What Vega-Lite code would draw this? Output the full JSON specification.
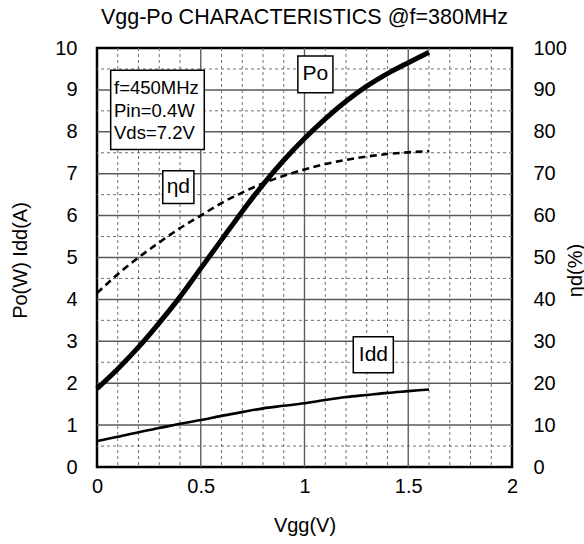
{
  "$schema": "https://vega.github.io/schema/vega-lite/v6.json",
  "width": 415,
  "height": 419,
  "autosize": "none",
  "padding": {"left": 97, "top": 48, "right": 72, "bottom": 77},
  "title": {
    "text": "Vgg-Po CHARACTERISTICS @f=380MHz",
    "fontSize": 21.5,
    "font": "Liberation Sans",
    "fontWeight": "normal",
    "color": "black",
    "anchor": "middle",
    "offset": 10
  },
  "config": {
    "view": {"stroke": "black", "strokeWidth": 2.5},
    "font": "Liberation Sans",
    "axis": {
      "labelFont": "Liberation Sans",
      "titleFont": "Liberation Sans",
      "labelFontSize": 20,
      "titleFontSize": 20,
      "titleFontWeight": "normal",
      "labelColor": "black",
      "titleColor": "black",
      "domain": false,
      "ticks": false,
      "grid": false,
      "labelFlush": false,
      "labelOverlap": false,
      "labelBound": false
    }
  },
  "datasets": {
    "curves": [
      {"vgg": 0.0, "po": 1.87, "idd": 0.62, "eta": 41.5},
      {"vgg": 0.1, "po": 2.34, "idd": 0.72, "eta": 46.0},
      {"vgg": 0.2, "po": 2.86, "idd": 0.83, "eta": 50.0},
      {"vgg": 0.3, "po": 3.44, "idd": 0.93, "eta": 53.6},
      {"vgg": 0.4, "po": 4.06, "idd": 1.03, "eta": 57.0},
      {"vgg": 0.5, "po": 4.74, "idd": 1.12, "eta": 60.0},
      {"vgg": 0.6, "po": 5.42, "idd": 1.22, "eta": 63.0},
      {"vgg": 0.7, "po": 6.10, "idd": 1.31, "eta": 65.5},
      {"vgg": 0.8, "po": 6.74, "idd": 1.40, "eta": 67.7},
      {"vgg": 0.9, "po": 7.32, "idd": 1.46, "eta": 69.5},
      {"vgg": 1.0, "po": 7.84, "idd": 1.52, "eta": 71.0},
      {"vgg": 1.1, "po": 8.31, "idd": 1.60, "eta": 72.3},
      {"vgg": 1.2, "po": 8.73, "idd": 1.67, "eta": 73.3},
      {"vgg": 1.3, "po": 9.09, "idd": 1.72, "eta": 74.1},
      {"vgg": 1.4, "po": 9.39, "idd": 1.77, "eta": 74.7},
      {"vgg": 1.5, "po": 9.65, "idd": 1.81, "eta": 75.1},
      {"vgg": 1.6, "po": 9.90, "idd": 1.85, "eta": 75.4}
    ],
    "majorVgg": [{"vgg": 0.5}, {"vgg": 1.0}, {"vgg": 1.5}],
    "majorLevel": [
      {"level": 1}, {"level": 2}, {"level": 3}, {"level": 4}, {"level": 5},
      {"level": 6}, {"level": 7}, {"level": 8}, {"level": 9}
    ],
    "minorVgg": [
      {"vgg": 0.1}, {"vgg": 0.2}, {"vgg": 0.3}, {"vgg": 0.4},
      {"vgg": 0.6}, {"vgg": 0.7}, {"vgg": 0.8}, {"vgg": 0.9},
      {"vgg": 1.1}, {"vgg": 1.2}, {"vgg": 1.3}, {"vgg": 1.4},
      {"vgg": 1.6}, {"vgg": 1.7}, {"vgg": 1.8}, {"vgg": 1.9}
    ],
    "minorLevel": [
      {"level": 0.5}, {"level": 2.5}, {"level": 3.5}, {"level": 4.5},
      {"level": 5.5}, {"level": 6.5}, {"level": 7.5}, {"level": 8.5}, {"level": 9.5}
    ],
    "boxes": [
      {"name": "Po", "x0": 0.968, "x1": 1.137, "y0": 8.93, "y1": 9.81},
      {"name": "ηd", "x0": 0.317, "x1": 0.467, "y0": 6.29, "y1": 7.07},
      {"name": "Idd", "x0": 1.235, "x1": 1.428, "y0": 2.25, "y1": 3.11},
      {"name": "conditions", "x0": 0.066, "x1": 0.517, "y0": 7.58, "y1": 9.47}
    ],
    "tags": [
      {"text": "Po", "vgg": 1.052, "level": 9.37},
      {"text": "ηd", "vgg": 0.392, "level": 6.68},
      {"text": "Idd", "vgg": 1.332, "level": 2.68}
    ],
    "conditions": [
      {"text": "f=450MHz", "vgg": 0.082, "level": 9.05},
      {"text": "Pin=0.4W", "vgg": 0.082, "level": 8.5},
      {"text": "Vds=7.2V", "vgg": 0.082, "level": 7.97}
    ]
  },
  "layer": [
    {
      "layer": [
        {
          "data": {"name": "minorVgg"},
          "mark": {"type": "rule", "color": "#707070", "strokeWidth": 1, "strokeDash": [3, 3]},
          "encoding": {
            "x": {
              "field": "vgg", "type": "quantitative", "title": "Vgg(V)",
              "scale": {"domain": [0, 2], "nice": false, "zero": false},
              "axis": {
                "values": [0, 0.5, 1, 1.5, 2],
                "format": "~r",
                "labelPadding": 9,
                "titleX": 207.5,
                "titleY": 58,
                "titleBaseline": "middle",
                "titleAlign": "center"
              }
            }
          }
        },
        {
          "data": {"name": "minorLevel"},
          "mark": {"type": "rule", "color": "#707070", "strokeWidth": 1, "strokeDash": [3, 3]},
          "encoding": {
            "y": {
              "field": "level", "type": "quantitative", "title": "Po(W) Idd(A)",
              "scale": {"domain": [0, 10], "nice": false},
              "axis": {
                "values": [0, 1, 2, 3, 4, 5, 6, 7, 8, 9, 10],
                "format": "d",
                "labelPadding": 20,
                "titleAngle": -90,
                "titleX": -77,
                "titleY": 212,
                "titleBaseline": "middle",
                "titleAlign": "center"
              }
            }
          }
        },
        {
          "data": {"name": "majorVgg"},
          "mark": {"type": "rule", "color": "#5e5e5e", "strokeWidth": 1.4},
          "encoding": {
            "x": {"field": "vgg", "type": "quantitative", "title": "Vgg(V)"}
          }
        },
        {
          "data": {"name": "majorLevel"},
          "mark": {"type": "rule", "color": "#5a5a5a", "strokeWidth": 1.5},
          "encoding": {
            "x": {"datum": 0, "type": "quantitative", "title": "Vgg(V)"},
            "x2": {"datum": 2},
            "y": {"field": "level", "type": "quantitative", "title": "Po(W) Idd(A)"}
          }
        },
        {
          "mark": {"type": "rule", "color": "#333333", "strokeWidth": 1.3, "strokeDash": [2, 2]},
          "encoding": {
            "y": {"datum": 1.5, "type": "quantitative", "title": "Po(W) Idd(A)"}
          }
        },
        {
          "data": {"name": "curves"},
          "mark": {"type": "line", "color": "black", "strokeWidth": 2.6, "interpolate": "monotone"},
          "encoding": {
            "x": {"field": "vgg", "type": "quantitative", "title": "Vgg(V)"},
            "y": {"field": "idd", "type": "quantitative", "title": "Po(W) Idd(A)"}
          }
        },
        {
          "data": {"name": "curves"},
          "mark": {"type": "line", "color": "black", "strokeWidth": 5, "interpolate": "monotone"},
          "encoding": {
            "x": {"field": "vgg", "type": "quantitative", "title": "Vgg(V)"},
            "y": {"field": "po", "type": "quantitative", "title": "Po(W) Idd(A)"}
          }
        },
        {
          "data": {"name": "boxes"},
          "mark": {"type": "rect", "fill": "white", "stroke": "black", "strokeWidth": 1.5},
          "encoding": {
            "x": {"field": "x0", "type": "quantitative", "title": "Vgg(V)"},
            "x2": {"field": "x1"},
            "y": {"field": "y0", "type": "quantitative", "title": "Po(W) Idd(A)"},
            "y2": {"field": "y1"}
          }
        },
        {
          "data": {"name": "tags"},
          "mark": {"type": "text", "fontSize": 21, "font": "Liberation Sans", "color": "black", "align": "center", "baseline": "middle"},
          "encoding": {
            "x": {"field": "vgg", "type": "quantitative", "title": "Vgg(V)"},
            "y": {"field": "level", "type": "quantitative", "title": "Po(W) Idd(A)"},
            "text": {"field": "text"}
          }
        },
        {
          "data": {"name": "conditions"},
          "mark": {"type": "text", "fontSize": 18.5, "font": "Liberation Sans", "color": "black", "align": "left", "baseline": "middle"},
          "encoding": {
            "x": {"field": "vgg", "type": "quantitative", "title": "Vgg(V)"},
            "y": {"field": "level", "type": "quantitative", "title": "Po(W) Idd(A)"},
            "text": {"field": "text"}
          }
        }
      ]
    },
    {
      "data": {"name": "curves"},
      "mark": {"type": "line", "color": "black", "strokeWidth": 2.6, "strokeDash": [7, 4.5], "interpolate": "monotone"},
      "encoding": {
        "x": {"field": "vgg", "type": "quantitative", "title": "Vgg(V)"},
        "y": {
          "field": "eta", "type": "quantitative", "title": "ηd(%)",
          "scale": {"domain": [0, 100], "nice": false},
          "axis": {
            "orient": "right",
            "values": [0, 10, 20, 30, 40, 50, 60, 70, 80, 90, 100],
            "labelPadding": 21,
            "titleAngle": -90,
            "titleX": 63,
            "titleY": 222,
            "titleBaseline": "middle",
            "titleAlign": "center"
          }
        }
      }
    }
  ],
  "resolve": {"scale": {"y": "independent"}}
}
